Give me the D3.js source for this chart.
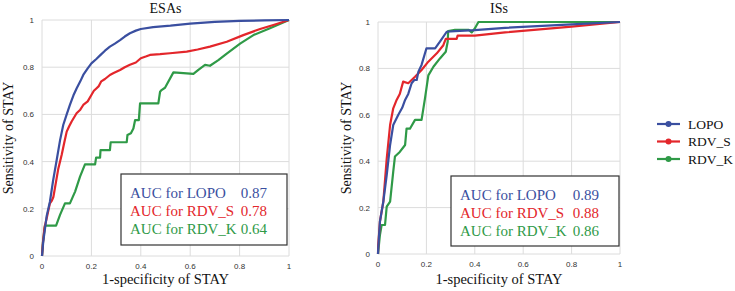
<!DOCTYPE html>
<html>
<head>
<meta charset="utf-8">
<script src="https://cdn.jsdelivr.net/npm/d3@7"></script>
<style>
  body { margin: 0; background: #fff; }
  svg { display: block; }
</style>
</head>
<body>
<div id="chart"></div>
<script>
// series names and colours
const seriesNames = ['LOPO', 'RDV_S', 'RDV_K'];
const seriesColors = ['#3a4fa0', '#e3262b', '#2f9a47'];
const ticks = [0, 0.2, 0.4, 0.6, 0.8, 1];

// ROC points [1-specificity, sensitivity]
const esaLopo = [[0,0],[0.005,0.06],[0.019,0.17],[0.032,0.23],[0.045,0.32],[0.06,0.41],[0.073,0.49],[0.086,0.555],[0.1,0.6],[0.113,0.64],[0.127,0.68],[0.14,0.71],[0.155,0.74],[0.167,0.767],[0.185,0.795],[0.2,0.816],[0.22,0.835],[0.235,0.85],[0.255,0.87],[0.275,0.887],[0.295,0.9],[0.316,0.915],[0.335,0.93],[0.356,0.944],[0.38,0.955],[0.4,0.962],[0.45,0.97],[0.52,0.976],[0.6,0.985],[0.7,0.992],[0.8,0.996],[0.9,0.998],[1,1]];
const esaRdvS = [[0,0],[0.003,0.047],[0.01,0.12],[0.019,0.16],[0.032,0.223],[0.04,0.235],[0.046,0.25],[0.056,0.31],[0.066,0.37],[0.08,0.43],[0.09,0.48],[0.1,0.527],[0.11,0.55],[0.12,0.57],[0.14,0.605],[0.155,0.62],[0.167,0.64],[0.185,0.655],[0.2,0.682],[0.21,0.7],[0.22,0.71],[0.23,0.72],[0.24,0.74],[0.255,0.75],[0.275,0.767],[0.29,0.775],[0.316,0.788],[0.335,0.8],[0.356,0.81],[0.38,0.82],[0.4,0.838],[0.42,0.845],[0.437,0.852],[0.478,0.855],[0.518,0.859],[0.586,0.866],[0.63,0.875],[0.68,0.887],[0.748,0.908],[0.815,0.936],[0.883,0.962],[0.94,0.98],[1,1]];
const esaRdvK = [[0,0],[0.004,0.06],[0.012,0.129],[0.057,0.129],[0.073,0.174],[0.093,0.223],[0.113,0.223],[0.134,0.273],[0.154,0.336],[0.174,0.388],[0.215,0.388],[0.219,0.417],[0.235,0.417],[0.237,0.449],[0.275,0.449],[0.278,0.482],[0.343,0.482],[0.346,0.513],[0.36,0.52],[0.37,0.54],[0.377,0.576],[0.392,0.576],[0.397,0.647],[0.471,0.647],[0.478,0.696],[0.484,0.703],[0.498,0.713],[0.532,0.778],[0.613,0.772],[0.633,0.789],[0.66,0.81],[0.68,0.806],[0.714,0.83],[0.748,0.858],[0.802,0.9],[0.856,0.936],[0.923,0.965],[1,1]];

const isLopo = [[0,0],[0.001,0.024],[0.008,0.14],[0.022,0.226],[0.036,0.34],[0.05,0.47],[0.063,0.556],[0.084,0.6],[0.1,0.63],[0.112,0.664],[0.125,0.69],[0.139,0.736],[0.15,0.75],[0.16,0.75],[0.167,0.786],[0.18,0.815],[0.2,0.886],[0.236,0.886],[0.256,0.915],[0.284,0.958],[0.318,0.961],[0.4,0.965],[0.525,0.975],[0.8,0.99],[1,1]];
const isRdvS = [[0,0],[0.001,0.04],[0.008,0.14],[0.022,0.226],[0.036,0.41],[0.05,0.556],[0.063,0.628],[0.077,0.664],[0.09,0.69],[0.104,0.743],[0.125,0.736],[0.153,0.764],[0.18,0.793],[0.208,0.829],[0.243,0.865],[0.27,0.9],[0.28,0.927],[0.325,0.927],[0.329,0.941],[0.4,0.941],[0.525,0.955],[0.8,0.98],[1,1]];
const isRdvK = [[0,0],[0.008,0.082],[0.015,0.125],[0.029,0.125],[0.036,0.204],[0.05,0.226],[0.063,0.355],[0.07,0.42],[0.09,0.44],[0.112,0.47],[0.118,0.54],[0.132,0.54],[0.153,0.578],[0.18,0.578],[0.194,0.67],[0.208,0.77],[0.229,0.807],[0.256,0.843],[0.28,0.872],[0.288,0.915],[0.29,0.961],[0.318,0.966],[0.375,0.966],[0.387,0.955],[0.4,0.972],[0.415,1],[1,1]];

const esaAuc = ['0.87', '0.78', '0.64'];
const isAuc = ['0.89', '0.88', '0.86'];

const width = 735, height = 291;
const serif = '"Liberation Serif", "Times New Roman", Times, serif';
const sans = '"Liberation Sans", Arial, sans-serif';

const svg = d3.select('#chart').append('svg')
  .attr('width', width).attr('height', height);

const panels = [
  { title: 'ESAs', series: [esaLopo, esaRdvS, esaRdvK], auc: esaAuc,
    x0: 42, x1: 289, y0: 256, y1: 20, box: [121, 174, 166, 71], yLabelX: 13 },
  { title: 'ISs', series: [isLopo, isRdvS, isRdvK], auc: isAuc,
    x0: 378, x1: 620, y0: 254, y1: 22, box: [451, 176, 168, 70], yLabelX: 351 },
];

panels.forEach(p => {
  const x = d3.scaleLinear().domain([0, 1]).range([p.x0, p.x1]);
  const y = d3.scaleLinear().domain([0, 1]).range([p.y0, p.y1]);
  const g = svg.append('g');

  // grid
  g.selectAll('line.vg').data(ticks).join('line')
    .attr('x1', d => x(d)).attr('x2', d => x(d))
    .attr('y1', y(0)).attr('y2', y(1))
    .attr('stroke', '#dcdcdc').attr('stroke-width', 1);
  g.selectAll('line.hg').data(ticks).join('line')
    .attr('y1', d => y(d)).attr('y2', d => y(d))
    .attr('x1', x(0)).attr('x2', x(1))
    .attr('stroke', '#dcdcdc').attr('stroke-width', 1);

  // tick labels
  const fmt = d => d === 0 || d === 1 ? String(d) : d.toFixed(1);
  g.selectAll('text.xt').data(ticks).join('text')
    .attr('x', d => x(d)).attr('y', p.y0 + 13)
    .attr('text-anchor', 'middle').attr('font-family', sans)
    .attr('font-size', 8).attr('fill', '#333').text(fmt);
  g.selectAll('text.yt').data(ticks).join('text')
    .attr('x', p.x0 - 8).attr('y', d => y(d) + 3)
    .attr('text-anchor', 'end').attr('font-family', sans)
    .attr('font-size', 8).attr('fill', '#333').text(fmt);

  // curves, drawn K first so LOPO sits on top
  const line = d3.line().x(d => x(d[0])).y(d => y(d[1]));
  [2, 1, 0].forEach(i => {
    g.append('path').datum(p.series[i])
      .attr('fill', 'none').attr('stroke', seriesColors[i])
      .attr('stroke-width', 2.2).attr('stroke-linejoin', 'round')
      .attr('d', line);
  });

  // title and axis labels
  g.append('text').attr('x', (p.x0 + p.x1) / 2).attr('y', 13)
    .attr('text-anchor', 'middle').attr('font-family', serif)
    .attr('font-size', 14).attr('fill', '#111').text(p.title);
  g.append('text').attr('x', (p.x0 + p.x1) / 2).attr('y', 284)
    .attr('text-anchor', 'middle').attr('font-family', serif)
    .attr('font-size', 14.5).attr('fill', '#111').text('1-specificity of STAY');
  g.append('text')
    .attr('transform', `translate(${p.yLabelX},${(p.y0 + p.y1) / 2}) rotate(-90)`)
    .attr('text-anchor', 'middle').attr('font-family', serif)
    .attr('font-size', 14).attr('fill', '#111').text('Sensitivity of STAY');

  // AUC box
  const [bx, by, bw, bh] = p.box;
  g.append('rect').attr('x', bx).attr('y', by).attr('width', bw).attr('height', bh)
    .attr('fill', '#fff').attr('stroke', '#333').attr('stroke-width', 1.2);
  seriesNames.forEach((name, i) => {
    g.append('text').attr('x', bx + 9).attr('y', by + 24 + i * 18)
      .attr('font-family', serif).attr('font-size', 15)
      .attr('fill', seriesColors[i]).text('AUC for ' + name);
    g.append('text').attr('x', bx + bw - 20).attr('y', by + 24 + i * 18)
      .attr('text-anchor', 'end').attr('font-family', serif).attr('font-size', 15)
      .attr('fill', seriesColors[i]).text(p.auc[i]);
  });
});

// right-hand legend
const leg = svg.append('g').attr('transform', 'translate(657,124)');
seriesNames.forEach((name, i) => {
  const row = leg.append('g').attr('transform', `translate(0,${i * 17.5})`);
  row.append('line').attr('x1', 0).attr('x2', 23).attr('y1', 0).attr('y2', 0)
    .attr('stroke', seriesColors[i]).attr('stroke-width', 2.2);
  row.append('circle').attr('cx', 11.5).attr('cy', 0).attr('r', 3)
    .attr('fill', seriesColors[i]);
  row.append('text').attr('x', 31).attr('y', 4.5)
    .attr('font-family', serif).attr('font-size', 13.5).attr('fill', '#111').text(name);
});
</script>
</body>
</html>
